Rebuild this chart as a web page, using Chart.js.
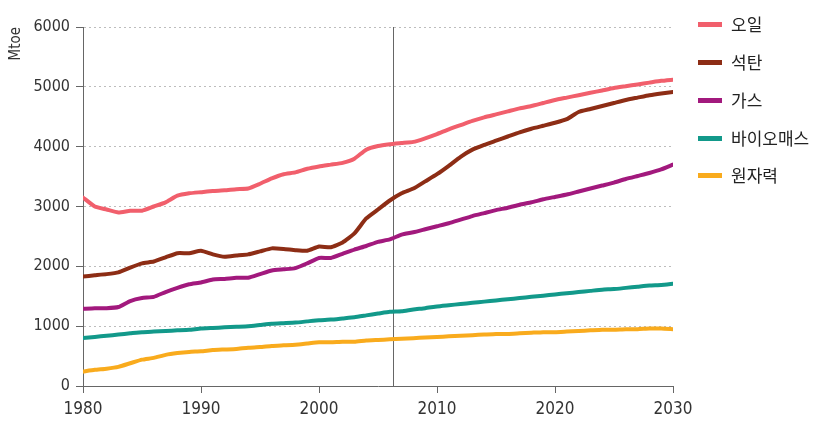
<!DOCTYPE html>
<html>
<head>
<meta charset="utf-8">
<script src="https://cdn.jsdelivr.net/npm/chart.js@4/dist/chart.umd.min.js"></script>
<style>
  html, body { margin: 0; padding: 0; background: #fff; }
  #wrap { position: relative; width: 822px; height: 427px; }
  #legend { position: absolute; left: 698px; top: 0; font-family: "Noto Sans CJK KR", sans-serif; font-size: 17px; color: #222; }
  .item { position: absolute; left: 0; height: 20px; white-space: nowrap; }
  .sw { position: absolute; left: 0; top: 8px; width: 24px; height: 5px; }
  .lb { position: absolute; left: 33px; top: -2px; line-height: 24px; }
</style>
</head>
<body>
<div id="wrap">
  <canvas id="myChart" width="822" height="427"></canvas>
  <div id="legend"></div>
</div>
<script>
// 연도 1980~2030
var years = [];
for (var y = 1980; y <= 2030; y++) years.push(y);

var seriesNames = ['오일', '석탄', '가스', '바이오매스', '원자력'];
var seriesColors = ['#f15f6c', '#8d2d15', '#a2197d', '#12998a', '#f9ab1d'];

var oil = [3150, 3000, 2950, 2900, 2930, 2930, 3000, 3070, 3180, 3220,
           3240, 3260, 3270, 3290, 3300, 3380, 3470, 3540, 3570, 3630,
           3670, 3700, 3730, 3800, 3950, 4010, 4040, 4060, 4080, 4140,
           4210, 4290, 4360, 4430, 4490, 4540, 4590, 4640, 4680, 4730,
           4780, 4820, 4860, 4900, 4940, 4980, 5010, 5040, 5070, 5100, 5120];
var coal = [1830, 1850, 1870, 1900, 1980, 2050, 2080, 2150, 2220, 2220,
            2260, 2200, 2160, 2180, 2200, 2250, 2300, 2290, 2270, 2260,
            2330, 2320, 2400, 2550, 2800, 2950, 3100, 3220, 3300, 3420,
            3540, 3680, 3830, 3950, 4030, 4100, 4170, 4240, 4300, 4350,
            4400, 4460, 4580, 4630, 4680, 4730, 4780, 4820, 4860, 4890, 4915];
var gas = [1290, 1300, 1300, 1320, 1420, 1470, 1490, 1570, 1640, 1700,
           1730, 1780, 1790, 1810, 1810, 1870, 1930, 1950, 1970, 2050,
           2140, 2140, 2210, 2280, 2340, 2410, 2450, 2530, 2570, 2620,
           2670, 2720, 2780, 2840, 2890, 2940, 2980, 3030, 3070, 3120,
           3160, 3200, 3250, 3300, 3350, 3400, 3460, 3510, 3560, 3620, 3700];
var biomass = [800, 820, 840, 860, 880, 900, 910, 920, 930, 940,
               960, 970, 980, 990, 1000, 1020, 1040, 1050, 1060, 1080,
               1100, 1110, 1130, 1150, 1180, 1210, 1240, 1250, 1280, 1300,
               1330, 1350, 1370, 1390, 1410, 1430, 1450, 1470, 1490, 1510,
               1530, 1550, 1570, 1590, 1610, 1620, 1640, 1660, 1680, 1690, 1710];
var nuclear = [240, 270, 290, 320, 380, 440, 470, 520, 550, 570,
               580, 600, 610, 620, 640, 650, 670, 680, 690, 710,
               730, 730, 740, 740, 760, 770, 780, 790, 800, 810,
               820, 830, 840, 850, 860, 870, 870, 880, 890, 900,
               900, 910, 920, 930, 940, 940, 950, 950, 960, 960, 950];

var markerYear = 2006.3; // 실적/전망 구분선
var yTicks = [0, 1000, 2000, 3000, 4000, 5000, 6000];
var xTicks = [1980, 1990, 2000, 2010, 2020, 2030];

function pts(arr) {
  return arr.map(function (v, i) { return { x: years[i], y: v }; });
}

var allData = [oil, coal, gas, biomass, nuclear];
var datasets = allData.map(function (arr, i) {
  return {
    label: seriesNames[i],
    data: pts(arr),
    borderColor: seriesColors[i],
    backgroundColor: seriesColors[i],
    borderWidth: 4,
    pointRadius: 0,
    tension: 0.15,
    borderJoinStyle: 'round',
    borderCapStyle: 'round'
  };
}).reverse();

// 세로 구분선
var markerLine = {
  id: 'markerLine',
  beforeDatasetsDraw: function (chart) {
    var c = chart.ctx, a = chart.chartArea;
    var x = chart.scales.x.getPixelForValue(markerYear);
    c.save();
    c.strokeStyle = '#666';
    c.lineWidth = 1;
    c.beginPath();
    c.moveTo(Math.round(x) + 0.5, a.top);
    c.lineTo(Math.round(x) + 0.5, a.bottom);
    c.stroke();
    c.restore();
  }
};

var axisFont = '"DejaVu Sans Condensed", sans-serif';

var ctx = document.getElementById('myChart').getContext('2d');
var myLineChart = new Chart(ctx, {
  type: 'line',
  data: { datasets: datasets },
  plugins: [markerLine],
  options: {
    responsive: false,
    animation: false,
    layout: { padding: { left: 0, right: 149, top: 27, bottom: 0 } },
    plugins: { legend: { display: false }, tooltip: { enabled: false } },
    scales: {
      x: {
        type: 'linear',
        min: 1980,
        max: 2030,
        afterFit: function (s) { s.height = 41; },
        afterBuildTicks: function (s) { s.ticks = xTicks.map(function (v) { return { value: v }; }); },
        ticks: {
          padding: 6,
          color: '#333',
          font: { family: axisFont, size: 17 },
          callback: function (v) { return String(v); },
          maxRotation: 0
        },
        grid: { drawOnChartArea: false, drawTicks: true, tickLength: 7, color: '#666', tickColor: '#666' },
        border: { color: '#666', width: 1 }
      },
      y: {
        min: 0,
        max: 6000,
        afterFit: function (s) { s.width = 83; },
        afterBuildTicks: function (s) { s.ticks = yTicks.map(function (v) { return { value: v }; }); },
        ticks: {
          padding: 6,
          color: '#333',
          font: { family: axisFont, size: 16 },
          callback: function (v) { return String(v); }
        },
        grid: { color: '#bdbdbd', lineWidth: 1, drawTicks: true, tickLength: 7, tickColor: '#666' },
        border: { display: true, color: '#666', width: 1, dash: [2, 3] },
        title: {
          display: true,
          text: 'Mtoe',
          align: 'end',
          color: '#333',
          padding: { top: 7, bottom: 0 },
          font: { family: axisFont, size: 15 }
        }
      }
    }
  }
});

// 범례
var legendTops = [24, 62, 100, 138, 175];
var lg = document.getElementById('legend');
seriesNames.forEach(function (n, i) {
  var d = document.createElement('div');
  d.className = 'item';
  d.style.top = (legendTops[i] - 10) + 'px';
  d.innerHTML = '<div class="sw" style="background:' + seriesColors[i] + '"></div><div class="lb">' + n + '</div>';
  lg.appendChild(d);
});
</script>
</body>
</html>
